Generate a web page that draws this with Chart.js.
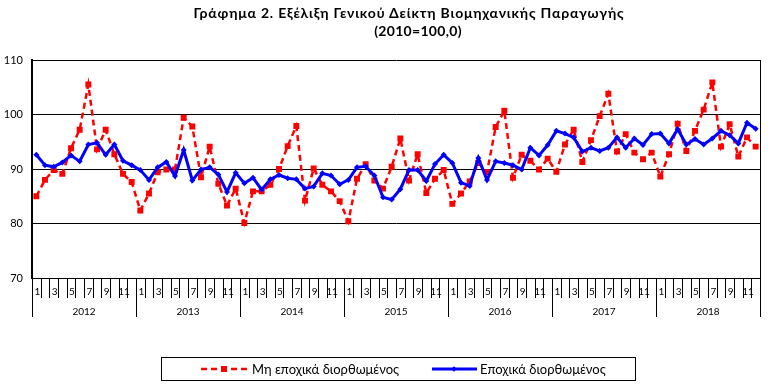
<!DOCTYPE html>
<html>
<head>
<meta charset="utf-8">
<script src="https://cdn.jsdelivr.net/npm/chart.js@4.4.1/dist/chart.umd.min.js"></script>
<style>
body{margin:0;background:#fff;font-family:Lato,"Open Sans",sans-serif;color:#000}
#wrap{position:relative;width:783px;height:390px}
.t{position:absolute;top:0;font-weight:bold;font-size:14px;line-height:18px;white-space:nowrap;transform:translateX(-50%)}
#legend{position:absolute;left:161px;top:357px;width:475px;height:24px;border:1px solid #000;box-sizing:border-box;font-size:13px}
#legend span{position:absolute;top:3px}
#legend svg{position:absolute;top:6px}
</style>
</head>
<body>
<div id="wrap">
<canvas id="myChart" width="783" height="390"></canvas>
<div class="t" style="left:409px;top:4px;letter-spacing:0.8px">Γράφημα 2. Εξέλιξη Γενικού Δείκτη Βιομηχανικής Παραγωγής</div>
<div class="t" style="left:418px;top:22px;letter-spacing:0.3px">(2010=100,0)</div>
<div id="legend">
  <svg width="46" height="10" style="left:39px"><line x1="0" y1="5" x2="46" y2="5" stroke="#ff0000" stroke-width="2.5" stroke-dasharray="6,4"/><rect x="20" y="2" width="6" height="6" fill="#ff0000"/></svg>
  <span style="left:90px">Μη εποχικά διορθωμένος</span>
  <svg width="45" height="10" style="left:270px"><line x1="0" y1="5" x2="45" y2="5" stroke="#0000ff" stroke-width="3"/><rect x="20" y="3" width="4" height="4" fill="#0000ff" transform="rotate(45 22 5)"/></svg>
  <span style="left:318px">Εποχικά διορθωμένος</span>
</div>
</div>
<script>
const years = ['2012', '2013', '2014', '2015', '2016', '2017', '2018'];
const months = [1, 2, 3, 4, 5, 6, 7, 8, 9, 10, 11, 12];

// Μη εποχικά διορθωμένος
const nonAdjusted = [
  85.0, 88.0, 89.8, 89.1, 93.8, 97.2, 105.5, 93.6, 97.2, 92.7, 89.1, 87.6,
  82.4, 85.5, 89.4, 89.9, 89.9, 99.4, 97.8, 88.5, 94.1, 87.3, 83.3, 86.4,
  80.1, 85.9, 85.9, 87.1, 90.0, 94.2, 97.9, 84.2, 90.1, 87.1, 85.9, 84.1,
  80.4, 88.2, 90.9, 87.9, 86.4, 90.4, 95.6, 87.9, 92.7, 85.6, 88.2, 89.8,
  83.6, 85.5, 87.7, 91.1, 89.4, 97.7, 100.7, 88.4, 92.6, 91.5, 89.9, 91.9,
  89.5, 94.5, 97.2, 91.3, 95.3, 99.7, 103.8, 93.2, 96.4, 93.0, 91.8, 93.0,
  88.6, 92.7, 98.3, 93.3, 97.0, 100.9, 105.9, 94.1, 98.2, 92.3, 95.8, 94.1
];
// Εποχικά διορθωμένος
const adjusted = [
  92.6, 90.7, 90.4, 91.2, 92.5, 91.4, 94.5, 94.8, 92.6, 94.5, 91.5, 90.7,
  89.8, 88.0, 90.3, 91.3, 88.7, 93.5, 87.9, 89.9, 90.3, 89.0, 85.8, 89.3,
  87.4, 88.4, 86.2, 88.1, 88.9, 88.3, 88.1, 86.4, 86.8, 89.2, 88.8, 87.2,
  88.0, 90.3, 90.5, 88.8, 84.8, 84.4, 86.3, 89.8, 89.8, 87.8, 90.9, 92.6,
  91.1, 87.5, 86.9, 92.0, 88.0, 91.4, 91.1, 90.7, 89.9, 93.9, 92.5, 94.4,
  97.0, 96.5, 95.8, 93.2, 93.9, 93.3, 93.9, 95.8, 93.9, 95.6, 94.4, 96.4,
  96.5, 94.7, 97.3, 94.5, 95.5, 94.5, 95.6, 97.0, 96.2, 94.7, 98.5, 97.4
];

const labels = [];
years.forEach(y => months.forEach(m => labels.push(y + '-' + m)));

// two-level category axis (months / years) + right frame line
const monthAxis = {
  id: 'monthAxis',
  afterDraw(chart) {
    const ctx = chart.ctx, a = chart.chartArea, x = chart.scales.x;
    const w = x.getPixelForValue(1) - x.getPixelForValue(0);
    ctx.save();
    ctx.strokeStyle = '#000';
    ctx.lineWidth = 1;
    ctx.beginPath();
    ctx.moveTo(Math.round(a.right) + 0.5, a.top);
    ctx.lineTo(Math.round(a.right) + 0.5, a.bottom);
    for (let b = 0; b <= labels.length; b++) {
      const px = Math.round(x.getPixelForValue(b) - w / 2) + 0.5;
      ctx.moveTo(px, a.bottom);
      ctx.lineTo(px, a.bottom + (b % 12 === 0 ? 39 : 20));
    }
    ctx.stroke();
    ctx.fillStyle = '#000';
    ctx.textAlign = 'center';
    ctx.textBaseline = 'middle';
    ctx.font = '10px Lato';
    labels.forEach((l, i) => {
      const m = months[i % 12];
      if (m % 2 === 1) ctx.fillText(String(m), x.getPixelForValue(i) + 1, a.bottom + 14);
    });
    years.forEach((y, k) => {
      const c = (x.getPixelForValue(k * 12) + x.getPixelForValue(k * 12 + 11)) / 2;
      ctx.fillText(y, c, a.bottom + 34);
    });
    ctx.restore();
  }
};

const data = {
  labels: labels,
  datasets: [{
    label: 'Μη εποχικά διορθωμένος',
    data: nonAdjusted,
    borderColor: '#ff0000',
    backgroundColor: '#ff0000',
    borderWidth: 2.5,
    borderDash: [6, 4],
    pointStyle: 'rect',
    pointRadius: 4.2,
    pointBorderWidth: 0,
    order: 1
  }, {
    label: 'Εποχικά διορθωμένος',
    data: adjusted,
    borderColor: '#0000ff',
    backgroundColor: '#0000ff',
    borderWidth: 3,
    pointStyle: 'rectRot',
    pointRadius: 3,
    pointBorderWidth: 0,
    order: 0
  }]
};

const config = {
  type: 'line',
  data: data,
  plugins: [monthAxis],
  options: {
    responsive: false,
    animation: false,
    devicePixelRatio: 1,
    layout: { padding: { top: 60, right: 23, bottom: 112, left: 0 } },
    plugins: { legend: { display: false }, tooltip: { enabled: false }, title: { display: false } },
    scales: {
      x: { type: 'category', offset: true, display: false },
      y: {
        min: 70, max: 110,
        afterFit(s) { s.width = 32; },
        ticks: { stepSize: 10, color: '#000', padding: 9, font: { family: 'Lato', size: 11 } },
        grid: { color: '#000', lineWidth: 1, drawTicks: false },
        border: { display: true, color: '#000', width: 2 }
      }
    }
  }
};

const myChart = new Chart(document.getElementById('myChart'), config);
</script>
</body>
</html>
